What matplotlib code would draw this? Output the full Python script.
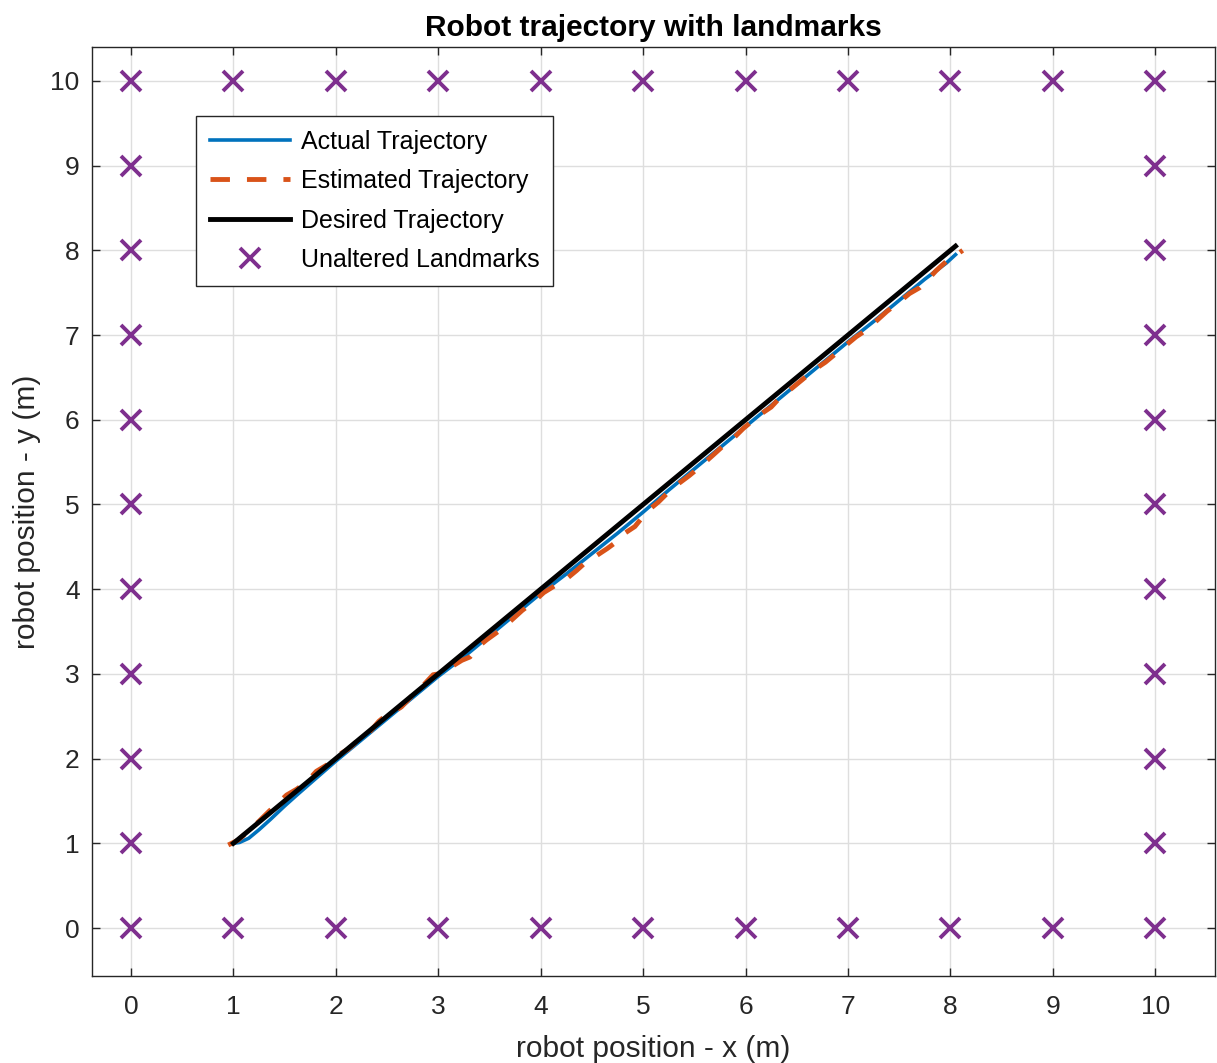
# Robot trajectory with landmarks (MATLAB-style plot)
import matplotlib.pyplot as plt

plt.rcParams['font.family'] = ['Liberation Sans', 'DejaVu Sans']

# actual trajectory
actual_x = [1.00, 1.06, 1.15, 1.25, 1.36, 1.50, 1.62, 1.80, 2.00, 2.25, 2.50, 2.75,
            3.00, 3.25, 3.50, 3.75, 4.00, 4.25, 4.50, 4.75, 5.00, 5.25, 5.50, 5.75,
            6.00, 6.25, 6.50, 6.75, 7.00, 7.25, 7.50, 7.75, 7.96, 8.05]
actual_y = [1.00, 1.01, 1.06, 1.16, 1.28, 1.44, 1.57, 1.76, 1.97, 2.22, 2.47, 2.72,
            2.97, 3.20, 3.45, 3.70, 3.95, 4.18, 4.42, 4.66, 4.91, 5.17, 5.42, 5.67,
            5.92, 6.17, 6.42, 6.67, 6.92, 7.16, 7.41, 7.66, 7.85, 7.95]

# estimated trajectory
est_x = [0.95, 1.05, 1.15, 1.25, 1.35, 1.45, 1.52, 1.62, 1.72, 1.81, 1.92, 2.02,
         2.12, 2.22, 2.32, 2.42, 2.50, 2.56, 2.64, 2.75, 2.85, 2.95, 3.05, 3.15,
         3.23, 3.31, 3.40, 3.47, 3.55, 3.63, 3.72, 3.82, 3.93, 4.03, 4.15, 4.25,
         4.35, 4.45, 4.55, 4.65, 4.74, 4.82, 4.92, 5.00, 5.05, 5.15, 5.25, 5.35,
         5.45, 5.55, 5.68, 5.78, 5.88, 5.98, 6.06, 6.14, 6.25, 6.35, 6.45, 6.55,
         6.67, 6.78, 6.88, 6.98, 7.08, 7.18, 7.28, 7.38, 7.50, 7.60, 7.70, 7.76,
         7.86, 7.96, 8.05, 8.12]
est_y = [0.98, 1.04, 1.15, 1.26, 1.38, 1.49, 1.57, 1.64, 1.73, 1.85, 1.93, 2.04,
         2.11, 2.22, 2.30, 2.44, 2.52, 2.55, 2.61, 2.75, 2.86, 2.99, 3.01, 3.10,
         3.16, 3.20, 3.33, 3.40, 3.47, 3.54, 3.64, 3.75, 3.85, 3.96, 4.05, 4.12,
         4.22, 4.33, 4.40, 4.48, 4.56, 4.66, 4.74, 4.86, 4.93, 5.03, 5.15, 5.25,
         5.34, 5.44, 5.58, 5.69, 5.78, 5.90, 5.98, 6.06, 6.15, 6.28, 6.37, 6.47,
         6.59, 6.68, 6.78, 6.88, 6.98, 7.06, 7.17, 7.28, 7.39, 7.49, 7.56, 7.63,
         7.76, 7.87, 7.94, 8.00]

# desired trajectory
desired_x = [1.0, 8.05]
desired_y = [1.0, 8.05]

# landmarks
lm_x = [0, 1, 2, 3, 4, 5, 6, 7, 8, 9, 10,
        0, 1, 2, 3, 4, 5, 6, 7, 8, 9, 10,
        0, 0, 0, 0, 0, 0, 0, 0, 0,
        10, 10, 10, 10, 10, 10, 10, 10, 10]
lm_y = [10, 10, 10, 10, 10, 10, 10, 10, 10, 10, 10,
        0, 0, 0, 0, 0, 0, 0, 0, 0, 0, 0,
        1, 2, 3, 4, 5, 6, 7, 8, 9,
        1, 2, 3, 4, 5, 6, 7, 8, 9]

fig = plt.figure(figsize=(12.17, 10.63), dpi=100)
ax = fig.add_axes([0.0756, 0.0818, 0.9225, 0.8743])

ax.plot(actual_x, actual_y, color='#0072BD', lw=2.6, label='Actual Trajectory')
ax.plot(est_x, est_y, color='#D95319', lw=3.5, ls=(0, (4, 3.5)), label='Estimated Trajectory')
ax.plot(desired_x, desired_y, color='black', lw=3.5, label='Desired Trajectory')
ax.plot(lm_x, lm_y, ls='none', marker='x', ms=14, mew=2.8, color='#7E2F8E',
        label='Unaltered Landmarks')

ax.set_xlim(-0.38, 10.58)
ax.set_ylim(-0.567, 10.405)
ax.set_xticks(range(0, 11))
ax.set_yticks(range(0, 11))

# MATLAB look
ax.grid(True, color='#dedede', lw=1.0)
ax.set_axisbelow(True)
for s in ax.spines.values():
    s.set_color('#262626')
    s.set_linewidth(1.0)
ax.tick_params(direction='in', top=True, right=True, length=6, width=1.0,
               colors='#262626', labelsize=19)
ax.tick_params(axis='x', pad=14)
ax.tick_params(axis='y', pad=9)

ax.set_xlabel('robot position - x (m)', fontsize=21.5, color='#262626', labelpad=11)
ax.set_ylabel('robot position - y (m)', fontsize=21.5, color='#262626', labelpad=7)
ax.set_title('Robot trajectory with landmarks', fontsize=21.5, fontweight='bold', pad=8)

leg = ax.legend(loc='upper left', bbox_to_anchor=(0.0926, 0.9254), borderaxespad=0,
                fontsize=18, fancybox=False, edgecolor='#262626', framealpha=1,
                handlelength=3.2, labelspacing=0.62, borderpad=0.55, handletextpad=0.45)
leg.get_frame().set_linewidth(1.0)

plt.savefig('out.png', dpi=100)
